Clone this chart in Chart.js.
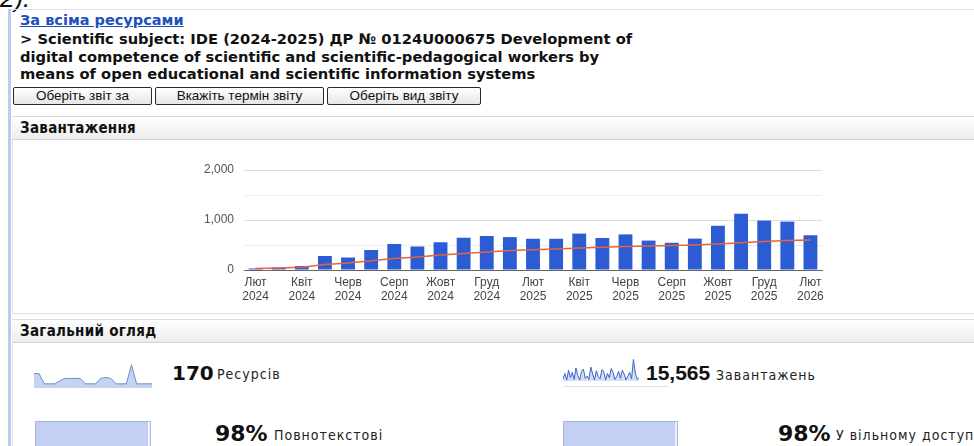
<!DOCTYPE html>
<html><head><meta charset="utf-8">
<script src="https://cdn.jsdelivr.net/npm/chart.js@4.4.1/dist/chart.umd.min.js"></script>
<style>
html,body{margin:0;padding:0;background:#fff;width:974px;height:446px;overflow:hidden;position:relative;font-family:'DejaVu Sans',sans-serif;}
.abs{position:absolute;white-space:nowrap;}
.top2{left:0;top:-17px;font:italic 26px 'Liberation Sans',sans-serif;color:#111;}
.topline{left:8px;top:9px;width:980px;height:1px;background:#dbe3f2;}
.leftbar{left:8px;top:9px;width:3px;height:440px;background:#bccbe9;}
.link{left:20px;top:12px;font:bold 14.5px 'DejaVu Sans',sans-serif;color:#1f4fbf;text-decoration:underline;line-height:17px;}
.title{left:20px;top:30px;font:bold 14.7px 'DejaVu Sans',sans-serif;color:#111;line-height:17.5px;}
.btn{top:87px;height:16px;border:1.5px solid #2a2a2a;border-radius:2px;background:linear-gradient(#ffffff,#e6e6e6);font:13.5px 'Liberation Sans',Arial,sans-serif;color:#111;text-align:center;line-height:16px;}
.sect{left:12px;width:975px;border:1px solid #dcdcdc;background:#fff;}
.sh{left:12px;width:975px;height:22px;background:linear-gradient(#ffffff,#ececec);border-bottom:1px solid #d6d6d6;}
.shtxt{font:bold 15px 'DejaVu Sans Condensed','DejaVu Sans',sans-serif;font-stretch:condensed;letter-spacing:0.3px;color:#111;line-height:22px;padding-left:8px;}
.big1{font:bold 20px 'DejaVu Sans',sans-serif;color:#111;}
.big2{font:bold 21px 'Liberation Sans',Arial,sans-serif;color:#111;}
.sm{font:14px 'DejaVu Sans Condensed','DejaVu Sans',sans-serif;font-stretch:condensed;color:#222;letter-spacing:1px;}
.rect{border:1px solid #a6b8e2;background:#eef2fb;}
</style></head>
<body>
<div class="abs top2">2).</div>
<div class="abs topline"></div>
<div class="abs leftbar"></div>
<div class="abs link">За всіма ресурсами</div>
<div class="abs title">&gt; Scientific subject: IDE (2024-2025) ДР № 0124U000675 Development of<br>digital competence of scientific and scientific-pedagogical workers by<br>means of open educational and scientific information systems</div>
<div class="abs btn" style="left:13px;width:137px;">Оберіть звіт за</div>
<div class="abs btn" style="left:155px;width:167px;">Вкажіть термін звіту</div>
<div class="abs btn" style="left:327px;width:152px;">Оберіть вид звіту</div>

<div class="abs sect" style="top:116px;height:196px;"></div>
<div class="abs sh" style="top:117px;"><div class="shtxt">Завантаження</div></div>
<div class="abs" style="left:180px;top:150px;width:660px;height:160px;"><canvas id="main"></canvas></div>

<div class="abs sect" style="top:319px;height:140px;"></div>
<div class="abs sh" style="top:320px;"><div class="shtxt">Загальний огляд</div></div>

<div class="abs" style="left:34px;top:356px;width:118px;height:32px;"><canvas id="sp1"></canvas></div>
<div class="abs big1" style="left:172px;top:361px;">170</div>
<div class="abs sm" style="left:217px;top:366px;">Ресурсів</div>

<div class="abs" style="left:563px;top:354px;width:76px;height:27px;"><canvas id="sp2"></canvas></div>
<div class="abs" style="left:563px;top:386px;width:106px;height:1px;background:#e2e2e2;"></div>
<div class="abs big2" style="left:646px;top:361px;">15,565</div>
<div class="abs sm" style="left:716px;top:367px;">Завантажень</div>

<div class="abs rect" style="left:35px;top:421px;width:114px;height:30px;"><canvas id="pb1"></canvas></div>
<div class="abs big1" style="left:215px;top:421px;font-size:22px;">98%</div>
<div class="abs sm" style="left:274px;top:427px;">Повнотекстові</div>
<div class="abs rect" style="left:563px;top:421px;width:113px;height:30px;"><canvas id="pb2"></canvas></div>
<div class="abs big1" style="left:778px;top:421px;font-size:22px;">98%</div>
<div class="abs sm" style="left:836px;top:427px;">У вільному доступі</div>

<script>
// ---- data ----
const months = ['Лют','Бер','Квіт','Трав','Черв','Лип','Серп','Вер','Жовт','Лист','Груд','Січ','Лют','Бер','Квіт','Трав','Черв','Лип','Серп','Вер','Жовт','Лист','Груд','Січ','Лют'];
const years  = ['2024','2024','2024','2024','2024','2024','2024','2024','2024','2024','2024','2025','2025','2025','2025','2025','2025','2025','2025','2025','2025','2025','2025','2026','2026'];
const downloads = [30,50,80,280,250,400,520,470,555,645,680,658,625,625,728,640,712,588,545,628,885,1125,988,968,695];
const trend = [30,40,55,110,140,185,230,262,298,330,360,390,405,420,440,455,470,480,490,500,520,545,570,588,600];
const yTicks = [0,500,1000,1500,2000];
const yLabels = ['0','','1,000','','2,000'];
const resourcesSpark = [45,45,13,13,13,22,30,30,30,30,13,13,13,30,33,30,13,13,13,73,13,13,13,13];
const downloadsSpark = [4,14,2,20,6,16,3,24,10,2,18,22,5,9,3,26,13,2,19,8,4,21,17,2,14,6,23,16,3,8,18,5,20,13,2,9,16,4,40,15,3,6];
const fullTextPct = [98];
const openAccessPct = [98];

Chart.defaults.font.family = "'Liberation Sans', Arial, sans-serif";
Chart.defaults.animation = false;

const labels = months.map((m,i)=>[m, years[i]]);
new Chart(document.getElementById('main'), {
  data: {
    labels: labels,
    datasets: [
      {type:'line', data: trend, borderColor:'#e8623a', borderWidth:1.5, pointRadius:0, tension:0, order:0},
      {type:'bar', data: downloads, backgroundColor:'#2c5cd4', barPercentage:0.6, categoryPercentage:1.0, order:1}
    ]
  },
  options: {
    responsive:true, maintainAspectRatio:false,
    layout:{padding:{top:20,right:18,left:4,bottom:4}},
    plugins:{legend:{display:false}, tooltip:{enabled:false}},
    scales:{
      x:{
        grid:{display:false, drawTicks:false},
        border:{display:true, color:'#666', width:1},
        ticks:{autoSkip:false, maxRotation:0, padding:5, color:'#444', font:{size:12},
          callback:function(v,i){ return i%2===0 ? labels[i] : ''; }},
        afterFit:function(s){ s.height = 36; }
      },
      y:{
        min:0, max:2000,
        afterBuildTicks:function(s){ s.ticks = yTicks.map(v=>({value:v})); },
        grid:{drawTicks:false, color:function(c){ return (c.tick && c.tick.value%1000===0) ? '#dcdcdc' : '#ededed'; }},
        border:{display:false},
        ticks:{padding:10, color:'#555', font:{size:12},
          callback:function(v){ const k = yTicks.indexOf(v); return k>=0 ? yLabels[k] : ''; }},
        afterFit:function(s){ s.width = 60; }
      }
    }
  }
});

function spark(id, data, fill, line, baseColor){
  new Chart(document.getElementById(id), {
    type:'line',
    data:{labels:data.map((_,i)=>i), datasets:[{data:data, borderColor:line, borderWidth:1, backgroundColor:fill, fill:'origin', pointRadius:0, tension:0}]},
    options:{responsive:true, maintainAspectRatio:false, layout:{padding:0},
      plugins:{legend:{display:false}, tooltip:{enabled:false}},
      scales:{
        x:{display:true, grid:{display:false, drawTicks:false}, ticks:{display:false}, border:{display:true,color:baseColor,width:1.5}},
        y:{display:false, min:0}
      }}
  });
}
spark('sp1', resourcesSpark, '#c5d2f0', '#6f8dcf', '#3a4660');
spark('sp2', downloadsSpark, '#d3ddf5', '#3d63c8', '#3d63c8');

function pbar(id, data){
  new Chart(document.getElementById(id), {
    type:'bar',
    data:{labels:[''], datasets:[{data:data, backgroundColor:'#c3d0f1', barPercentage:1, categoryPercentage:1}]},
    options:{indexAxis:'y', responsive:true, maintainAspectRatio:false, layout:{padding:0},
      plugins:{legend:{display:false}, tooltip:{enabled:false}},
      scales:{x:{display:false,min:0,max:100}, y:{display:false}}}
  });
}
pbar('pb1', fullTextPct);
pbar('pb2', openAccessPct);
</script>
</body></html>
